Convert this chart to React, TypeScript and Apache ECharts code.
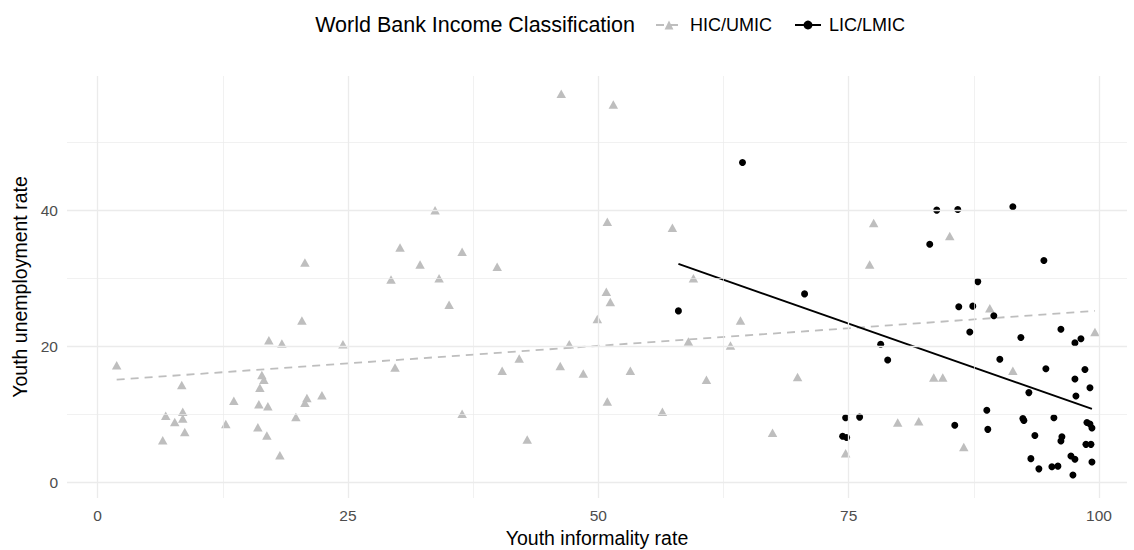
import React, { useEffect, useRef } from "react";
import * as echarts from "echarts";

// HIC/UMIC countries: [youth informality rate, youth unemployment rate]
const hicUmic: [number, number][] = [
  [1.9, 17.2], [6.5, 6.2], [6.8, 9.8], [7.7, 8.9], [8.4, 14.3], [8.5, 10.4], [8.5, 9.4], [8.7, 7.4],
  [12.8, 8.6], [13.6, 12.0], [16.0, 8.1], [16.1, 11.5], [16.2, 13.9], [16.4, 15.8], [16.6, 15.1],
  [16.9, 6.9], [17.0, 11.2], [17.1, 20.9], [18.2, 4.0], [18.4, 20.4], [19.8, 9.6], [20.4, 23.8],
  [20.7, 11.7], [20.7, 32.3], [20.9, 12.4], [22.4, 12.8], [24.5, 20.3], [29.3, 29.8], [29.7, 16.9],
  [30.2, 34.5], [32.2, 32.0], [33.7, 40.0], [34.1, 30.0], [35.1, 26.1], [36.4, 33.9], [36.4, 10.1],
  [39.9, 31.7], [40.4, 16.4], [42.1, 18.2], [42.9, 6.3], [46.2, 17.1], [46.3, 57.1], [47.1, 20.3],
  [48.5, 16.0], [49.9, 24.0], [50.8, 28.0], [50.9, 38.3], [50.9, 11.9], [51.2, 26.5], [51.5, 55.5],
  [53.2, 16.4], [56.4, 10.4], [57.4, 37.4], [59.0, 20.7], [59.5, 30.0], [60.8, 15.1], [63.2, 20.1],
  [64.2, 23.8], [67.4, 7.3], [69.9, 15.5], [74.7, 4.3], [77.1, 32.0], [77.5, 38.1], [79.9, 8.8],
  [82.0, 9.0], [83.5, 15.4], [84.4, 15.4], [85.1, 36.2], [86.5, 5.2], [89.1, 25.6], [91.4, 16.4],
  [99.6, 22.1],
];

// LIC/LMIC countries
const licLmic: [number, number][] = [
  [58.0, 25.2], [64.4, 47.0], [70.6, 27.7], [74.4, 6.8], [74.7, 9.5], [74.8, 6.6], [76.1, 9.6],
  [78.2, 20.3], [78.9, 18.0], [83.1, 35.0], [83.8, 40.0], [85.6, 8.4], [85.9, 40.1], [86.0, 25.8],
  [87.1, 22.1], [87.4, 25.9], [87.9, 29.5], [88.8, 10.6], [88.9, 7.8], [89.5, 24.5], [90.1, 18.1],
  [91.4, 40.5], [92.2, 21.3], [92.4, 9.4], [92.5, 9.1], [93.0, 13.2], [93.2, 3.5], [93.6, 6.9],
  [94.0, 2.0], [94.5, 32.6], [94.7, 16.7], [95.3, 2.3], [95.5, 9.5], [95.9, 2.4], [96.2, 22.5],
  [96.2, 6.1], [96.3, 6.7], [97.2, 3.9], [97.4, 1.1], [97.6, 3.4], [97.6, 15.2], [97.6, 20.5],
  [97.7, 12.7], [98.2, 21.1], [98.6, 16.6], [98.7, 5.6], [98.8, 8.8], [99.1, 8.6], [99.1, 13.9],
  [99.2, 5.6], [99.3, 8.0], [99.3, 3.0],
];

// Linear trend lines (end points)
const hicTrend: [number, number][] = [[1.9, 15.1], [99.6, 25.2]];
const licTrend: [number, number][] = [[58.0, 32.1], [99.3, 10.8]];

// Axis ticks
const xTicks = [0, 25, 50, 75, 100];
const xMinor = [12.5, 37.5, 62.5, 87.5];
const yTicks = [0, 20, 40];
const yMinor = [10, 30, 50];

const seriesNames = ["HIC/UMIC", "LIC/LMIC"];
const legendTitle = "World Bank Income Classification";

const FONT = '"Liberation Sans", Arial, Helvetica, sans-serif';
const GRID_COLOR = "#EBEBEB";
const HIC_COLOR = "#BEBEBE";
const LIC_COLOR = "#000000";
const TICK_SIZE = 15.5;
const TITLE_SIZE = 19.5;
const LEGEND_TITLE_SIZE = 21.5;
const LEGEND_TEXT_SIZE = 18;

export default function App() {
  const ref = useRef<HTMLDivElement>(null);

  useEffect(() => {
    if (!ref.current) return;
    const chart = echarts.init(ref.current, undefined, { renderer: "svg" });

    const major = { color: GRID_COLOR, width: 1.3, type: "solid" };
    const minor = { color: GRID_COLOR, width: 0.7, type: "solid" };
    const gridLines: any[] = [
      ...xTicks.map((v) => ({ xAxis: v, lineStyle: major })),
      ...xMinor.map((v) => ({ xAxis: v, lineStyle: minor })),
      ...yTicks.map((v) => ({ yAxis: v, lineStyle: major })),
      ...yMinor.map((v) => ({ yAxis: v, lineStyle: minor })),
    ];

    const option: any = {
      animation: false,
      backgroundColor: "#ffffff",
      textStyle: { fontFamily: FONT },
      grid: { left: 67, right: 7, top: 76, bottom: 52, outerBoundsMode: "none", containLabel: false },
      legend: {
        data: seriesNames,
        left: 650,
        top: 11,
        itemWidth: 26,
        itemHeight: 11,
        itemGap: 22,
        textStyle: { fontSize: LEGEND_TEXT_SIZE, color: "#000", fontFamily: FONT, padding: [0, 0, 0, 3] },
      },
      graphic: [
        {
          type: "text",
          right: 1134 - 635,
          top: 14,
          style: { text: legendTitle, fontSize: LEGEND_TITLE_SIZE, fill: "#000", fontFamily: FONT },
        },
      ],
      xAxis: {
        type: "value",
        min: -3.06,
        max: 102.8,
        axisLine: { show: false },
        axisTick: { show: false },
        splitLine: { show: false },
        axisLabel: { customValues: xTicks, color: "#4D4D4D", fontSize: TICK_SIZE, margin: 9, fontFamily: FONT },
        name: "Youth informality rate",
        nameLocation: "middle",
        nameGap: 28,
        nameTextStyle: { fontSize: TITLE_SIZE, color: "#000", fontFamily: FONT },
      },
      yAxis: {
        type: "value",
        min: -2.28,
        max: 59.7,
        axisLine: { show: false },
        axisTick: { show: false },
        splitLine: { show: false },
        axisLabel: { customValues: yTicks, color: "#4D4D4D", fontSize: TICK_SIZE, margin: 9, fontFamily: FONT },
        name: "Youth unemployment rate",
        nameLocation: "middle",
        nameGap: 35,
        nameTextStyle: { fontSize: TITLE_SIZE, color: "#000", fontFamily: FONT },
      },
      series: [
        {
          name: seriesNames[0],
          type: "line",
          data: hicTrend,
          symbol: "triangle",
          symbolSize: 9,
          showSymbol: false,
          color: HIC_COLOR,
          lineStyle: { color: HIC_COLOR, width: 1.8, type: [8, 6] },
          z: 3,
          silent: true,
        },
        {
          name: seriesNames[1],
          type: "line",
          data: licTrend,
          symbol: "circle",
          symbolSize: 7,
          showSymbol: false,
          color: LIC_COLOR,
          lineStyle: { color: LIC_COLOR, width: 1.9 },
          z: 4,
          silent: true,
        },
        {
          name: seriesNames[0],
          type: "scatter",
          data: hicUmic,
          symbol: "triangle",
          symbolSize: [9.5, 8.5],
          itemStyle: { color: HIC_COLOR, opacity: 1 },
          z: 2,
        },
        {
          name: seriesNames[1],
          type: "scatter",
          data: licLmic,
          symbol: "circle",
          symbolSize: 7,
          itemStyle: { color: LIC_COLOR, opacity: 1 },
          z: 3,
        },
        {
          name: "grid",
          type: "scatter",
          data: [],
          z: 0,
          silent: true,
          markLine: {
            silent: true,
            symbol: ["none", "none"],
            label: { show: false },
            animation: false,
            data: gridLines,
          },
        },
      ],
    };

    chart.setOption(option);
    return () => chart.dispose();
  }, []);

  return (
    <div
      ref={ref}
      style={{ position: "fixed", left: 0, top: 0, width: 1134, height: 550 }}
    />
  );
}
